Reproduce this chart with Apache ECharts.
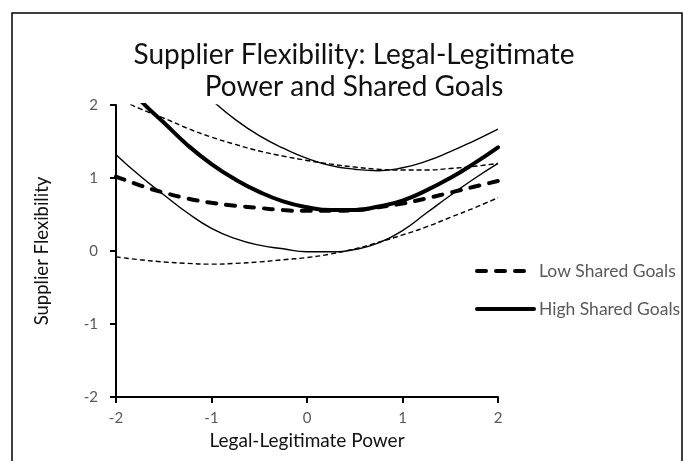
<!DOCTYPE html>
<html>
<head>
<meta charset="utf-8">
<script src="https://cdn.jsdelivr.net/npm/echarts@6/dist/echarts.min.js"></script>
<style>
  html, body { margin: 0; padding: 0; background: #fff; }
  #chart { width: 684px; height: 461px; }
</style>
</head>
<body>
<div id="chart"></div>
<script>
// Legal-legitimate power (x) vs predicted supplier flexibility (y)
const powerLevels = [-2, -1.75, -1.5, -1.25, -1, -0.75, -0.5, -0.25, 0,
  0.25, 0.5, 0.75, 1, 1.25, 1.5, 1.75, 2];

// main estimates
const lowShared = [1.02, 0.90, 0.80, 0.72, 0.66, 0.62, 0.59, 0.56, 0.55,
  0.55, 0.56, 0.60, 0.65, 0.72, 0.80, 0.88, 0.96];
const highShared = [2.45, 2.07, 1.76, 1.45, 1.19, 0.98, 0.81, 0.68, 0.60,
  0.56, 0.56, 0.61, 0.69, 0.83, 1.00, 1.20, 1.42];

// confidence bands (thin lines)
const lowSharedUpper = [2.10, 1.95, 1.82, 1.68, 1.56, 1.46, 1.37, 1.30, 1.24,
  1.19, 1.15, 1.12, 1.11, 1.11, 1.13, 1.16, 1.20];
const lowSharedLower = [-0.08, -0.12, -0.15, -0.17, -0.18, -0.17, -0.15, -0.12, -0.09,
  -0.04, 0.03, 0.12, 0.22, 0.33, 0.46, 0.59, 0.73];
const highSharedUpper = [3.58, 3.13, 2.73, 2.38, 2.07, 1.80, 1.58, 1.41, 1.27,
  1.17, 1.12, 1.10, 1.14, 1.23, 1.36, 1.51, 1.67];
const highSharedLower = [1.32, 1.03, 0.77, 0.52, 0.31, 0.17, 0.08, 0.03, -0.01,
  -0.01, 0.02, 0.11, 0.28, 0.52, 0.76, 0.99, 1.20];

const axisTicks = [-2, -1, 0, 1, 2];

const FONT = 'Lato';
const pairs = (ys) => powerLevels.map((x, i) => [x, ys[i]]);

const chart = echarts.init(document.getElementById('chart'));

const thin = (name, ys, dashed) => ({
  name,
  type: 'line',
  data: pairs(ys),
  smooth: 0.5,
  symbol: 'none',
  silent: true,
  z: 2,
  lineStyle: { color: '#000', width: 1.4, type: dashed ? [5, 3] : 'solid' }
});

const option = {
  backgroundColor: '#fff',
  animation: false,
  title: {
    text: 'Supplier Flexibility: Legal-Legitimate\nPower and Shared Goals',
    left: 349,
    top: 34,
    textAlign: 'center',
    textStyle: {
      fontFamily: FONT,
      fontSize: 28,
      fontWeight: 'normal',
      color: '#111',
      lineHeight: 32
    }
  },
  graphic: [{
    type: 'rect',
    shape: { x: 12, y: 13, width: 670, height: 500 },
    style: { fill: 'none', stroke: '#000', lineWidth: 1.5 },
    silent: true
  }],
  legend: {
    orient: 'vertical',
    left: 470,
    top: 257,
    itemWidth: 57,
    itemHeight: 14,
    itemGap: 20,
    data: ['Low Shared Goals', 'High Shared Goals'],
    itemStyle: { opacity: 0 },
    lineStyle: { width: 4, cap: 'round' },
    textStyle: { fontFamily: FONT, fontSize: 17.5, color: '#595959' }
  },
  grid: { left: 116, right: 186, top: 105, bottom: 64 },
  xAxis: {
    type: 'value',
    min: axisTicks[0],
    max: axisTicks[axisTicks.length - 1],
    interval: 1,
    name: 'Legal-Legitimate Power',
    nameLocation: 'middle',
    nameGap: 33,
    nameTextStyle: { fontFamily: FONT, fontSize: 19, color: '#111' },
    axisLine: { onZero: false, lineStyle: { color: '#000', width: 2 } },
    axisTick: { length: 6, lineStyle: { color: '#000', width: 2 } },
    axisLabel: { fontFamily: FONT, fontSize: 15, color: '#595959', margin: 14 },
    splitLine: { show: false }
  },
  yAxis: {
    type: 'value',
    min: axisTicks[0],
    max: axisTicks[axisTicks.length - 1],
    interval: 1,
    name: 'Supplier Flexibility',
    nameLocation: 'middle',
    nameRotate: 90,
    nameGap: 64,
    nameTextStyle: { fontFamily: FONT, fontSize: 18.5, color: '#111' },
    axisLine: { onZero: false, lineStyle: { color: '#000', width: 2 } },
    axisTick: { length: 6, lineStyle: { color: '#000', width: 2 } },
    axisLabel: { fontFamily: FONT, fontSize: 15, color: '#595959', margin: 18 },
    splitLine: { show: false }
  },
  series: [
    thin('Low upper', lowSharedUpper, true),
    thin('Low lower', lowSharedLower, true),
    thin('High upper', highSharedUpper, false),
    thin('High lower', highSharedLower, false),
    {
      name: 'Low Shared Goals',
      type: 'line',
      data: pairs(lowShared),
      smooth: 0.5,
      symbol: 'none',
      z: 3,
      itemStyle: { color: 'rgba(0,0,0,0)' },
      lineStyle: { color: '#000', width: 4, type: [9, 10], cap: 'round' }
    },
    {
      name: 'High Shared Goals',
      type: 'line',
      data: pairs(highShared),
      smooth: 0.5,
      symbol: 'none',
      z: 4,
      itemStyle: { color: 'rgba(0,0,0,0)' },
      lineStyle: { color: '#000', width: 4, cap: 'round' }
    }
  ]
};

chart.setOption(option);
window.addEventListener('resize', () => chart.resize());
</script>
</body>
</html>
